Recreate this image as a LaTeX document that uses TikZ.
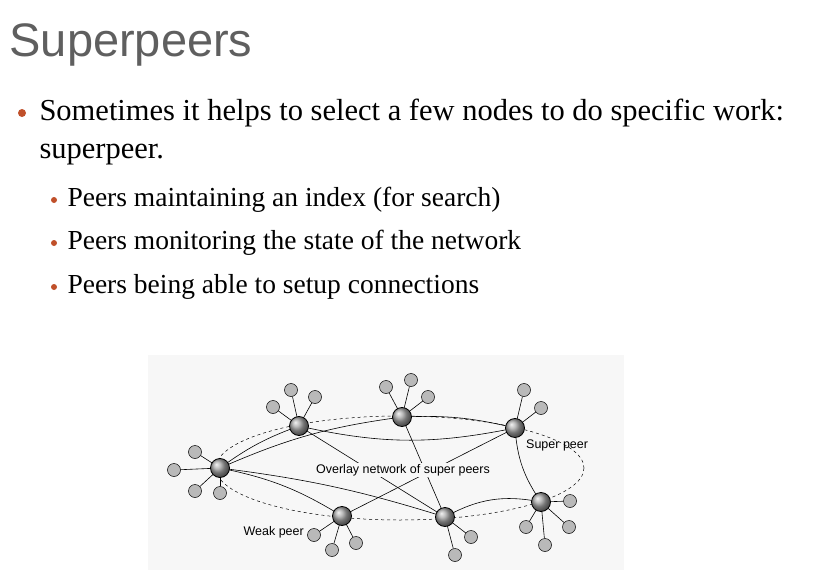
\documentclass[tikz,border=0pt]{standalone}
\usepackage{fontspec}
\setmainfont{Liberation Serif}
\newfontfamily\sansf{Liberation Sans}
\definecolor{bul}{HTML}{C0502A}
\definecolor{ttl}{HTML}{5F5F5F}
\begin{document}
\begin{tikzpicture}[x=1pt,y=-1pt,
  sp/.style={draw, shape=circle, inner sep=0pt, minimum size=19pt, ball color=gray!70!white, line width=0.8pt},
  wp/.style={draw, shape=circle, fill=gray!55, inner sep=0pt, minimum size=13pt, line width=0.5pt},
  lbl/.style={font=\sansf\fontsize{12.5}{14}\selectfont, inner sep=1pt},
  dot/.style={shape=circle, fill=bul, inner sep=0pt}]
  \useasboundingbox (0,0) rectangle (817,586);
  % Text
  \node[anchor=west, text=ttl, font=\sansf\fontsize{47}{50}\selectfont] (title) at (6,45) {Superpeers};
  \node[dot, minimum size=8pt] (d1) at (22,113) {};
  \node[anchor=west, font=\fontsize{30.5}{33}\selectfont] (t1) at (36,113) {Sometimes it helps to select a few nodes to do specific work:};
  \node[anchor=west, font=\fontsize{30.5}{33}\selectfont] (t1b) at (36,155) {superpeer.};
  \node[dot, minimum size=6pt] (d2) at (54,200) {};
  \node[anchor=west, font=\fontsize{27.5}{30}\selectfont] (t2) at (64,200) {Peers maintaining an index (for search)};
  \node[dot, minimum size=6pt] (d3) at (54,243) {};
  \node[anchor=west, font=\fontsize{27.5}{30}\selectfont] (t3) at (64,243) {Peers monitoring the state of the network};
  \node[dot, minimum size=6pt] (d4) at (54,287) {};
  \node[anchor=west, font=\fontsize{27.5}{30}\selectfont] (t4) at (64,287) {Peers being able to setup connections};

  % Panel
  \fill[gray!6] (148,355) rectangle (624,570);
  \draw[dashed, line width=0.5pt] (400,468) ellipse [x radius=184, y radius=52];

  % Super peers
  \coordinate (sA) at (220,468);
  \coordinate (sB) at (299,426);
  \coordinate (sC) at (402,417);
  \coordinate (sD) at (515,428);
  \coordinate (sE) at (541,502);
  \coordinate (sF) at (445,517);
  \coordinate (sG) at (342,516);

  % Overlay links
  \begin{scope}[line width=0.6pt]
    \draw (sA) to[bend left=8] (sB);
    \draw (sA) to[bend left=8] (sC);
    \draw (sA) to[bend left=10] (sG);
    \draw (sA) to[bend left=5] (sF);
    \draw (sB) to[bend right=12] (sD);
    \draw (sB) -- (sF);
    \draw (sC) to[bend left=8] (sD);
    \draw (sC) -- (sF);
    \draw (sD) -- (sG);
    \draw (sD) to[bend right=15] (sE);
    \draw (sF) to[bend left=20] (sE);
  \end{scope}

  \node[lbl, fill=gray!6] (ovl) at (403,470) {Overlay network of super peers};

  % Weak peers
  \begin{scope}[every node/.style={wp}]
    \node (wA1) at (174,470) {};
    \node (wA2) at (195,452) {};
    \node (wA3) at (195,491) {};
    \node (wA4) at (220,493) {};
    \node (wB1) at (273,407) {};
    \node (wB2) at (291,390) {};
    \node (wB3) at (315,397) {};
    \node (wC1) at (386,387) {};
    \node (wC2) at (411,380) {};
    \node (wC3) at (428,397) {};
    \node (wD1) at (524,390) {};
    \node (wD2) at (541,408) {};
    \node (wE1) at (570,501) {};
    \node (wE2) at (569,527) {};
    \node (wE3) at (545,545) {};
    \node (wE4) at (526,527) {};
    \node (wF1) at (471,537) {};
    \node (wF2) at (455,555) {};
    \node (wG1) at (314,535) {};
    \node (wG2) at (332,550) {};
    \node (wG3) at (356,543) {};
  \end{scope}

  % Weak links
  \foreach \s/\w in {A/A1,A/A2,A/A3,A/A4,B/B1,B/B2,B/B3,C/C1,C/C2,C/C3,D/D1,D/D2,E/E1,E/E2,E/E3,E/E4,F/F1,F/F2,G/G1,G/G2,G/G3}
    \draw[line width=0.6pt] (s\s) -- (w\w);

  \begin{scope}[every node/.style={sp}]
    \node (nA) at (sA) {};
    \node (nB) at (sB) {};
    \node (nC) at (sC) {};
    \node (nD) at (sD) {};
    \node (nE) at (sE) {};
    \node (nF) at (sF) {};
    \node (nG) at (sG) {};
  \end{scope}

  \node[lbl, anchor=west] (lsp) at (525,445) {Super peer};
  \node[lbl, anchor=east] (lwp) at (305,532) {Weak peer};
\end{tikzpicture}
\end{document}
